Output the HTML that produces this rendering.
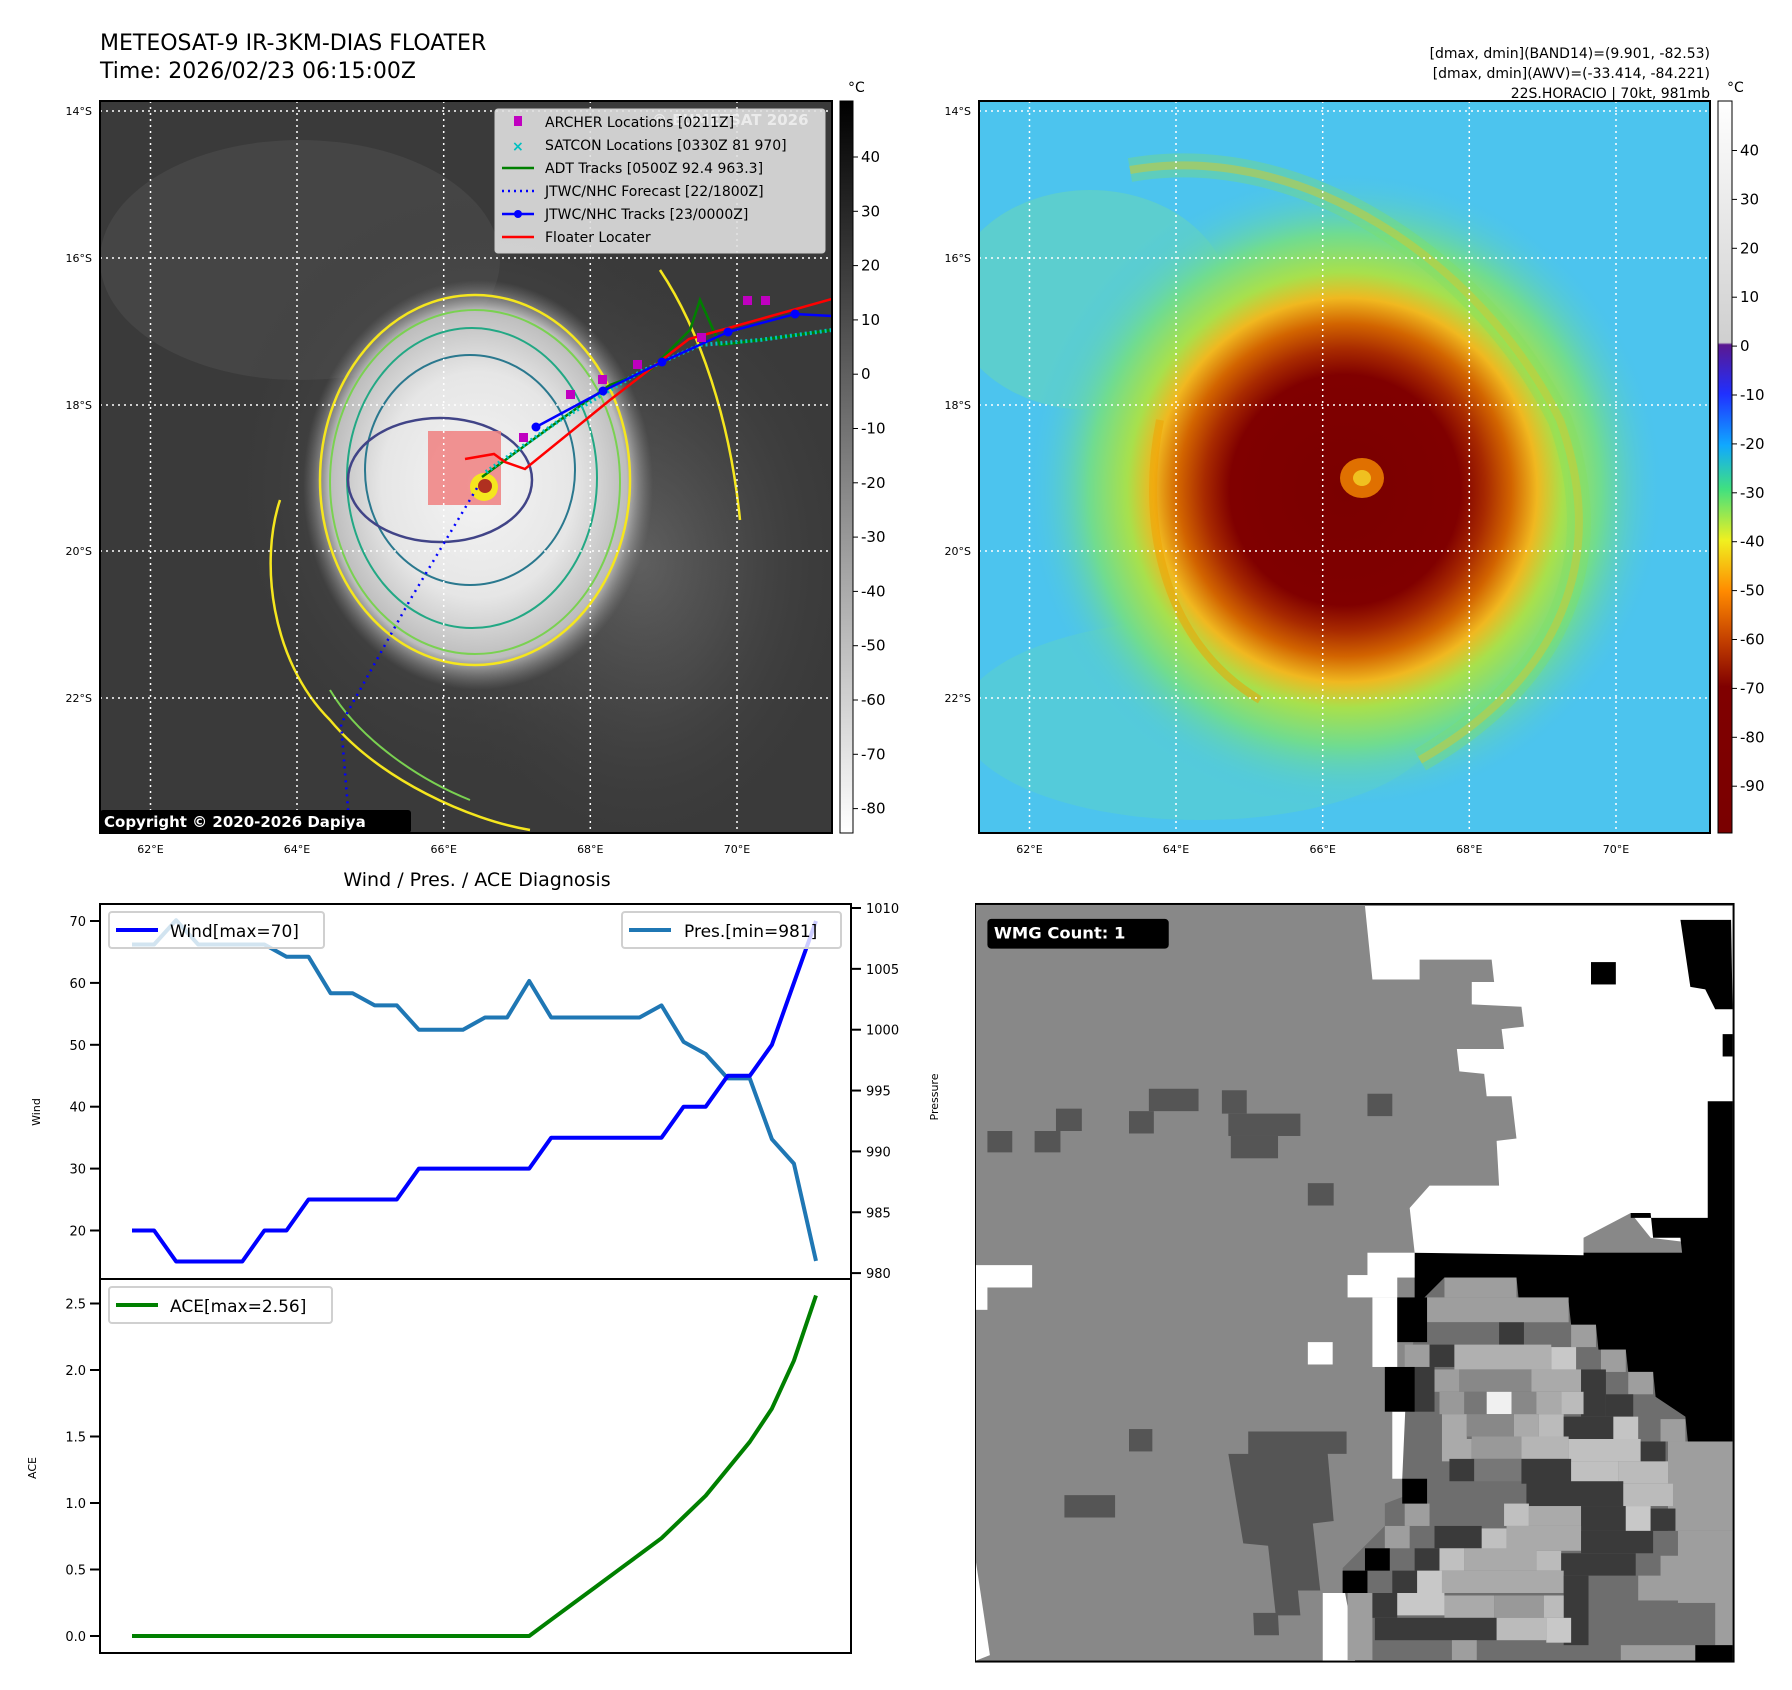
<!DOCTYPE html>
<html><head><meta charset="utf-8"><style>
html,body{margin:0;padding:0;background:#fff;}
svg{display:block;font-family:"DejaVu Sans","Liberation Sans",sans-serif;}
</style></head><body>
<svg id="root" width="1792" height="1690" viewBox="0 0 1792 1690" xmlns="http://www.w3.org/2000/svg">
<defs>
<radialGradient id="cloud1" cx="0.5" cy="0.5" r="0.5">
<stop offset="0" stop-color="#f4f4f4"/><stop offset="0.55" stop-color="#e6e6e6"/><stop offset="0.85" stop-color="#bdbdbd"/><stop offset="1" stop-color="#8a8a8a" stop-opacity="0"/>
</radialGradient>
<radialGradient id="halo1" cx="0.5" cy="0.5" r="0.5">
<stop offset="0" stop-color="#6a6a6a"/><stop offset="1" stop-color="#3a3a3a" stop-opacity="0"/>
</radialGradient>
<radialGradient id="storm2" cx="0.5" cy="0.5" r="0.5">
<stop offset="0" stop-color="#7a0000"/><stop offset="0.36" stop-color="#800000"/><stop offset="0.44" stop-color="#a82a00"/><stop offset="0.52" stop-color="#d26400"/><stop offset="0.6" stop-color="#f0b820"/><stop offset="0.68" stop-color="#a8e04c"/><stop offset="0.8" stop-color="#70dc90"/><stop offset="1" stop-color="#4cc4ee" stop-opacity="0"/>
</radialGradient>
<linearGradient id="cb1" x1="0" y1="0" x2="0" y2="1"><stop offset="0" stop-color="#000"/><stop offset="1" stop-color="#fff"/></linearGradient>
<linearGradient id="cb2" x1="0" y1="0" x2="0" y2="1">
<stop offset="0" stop-color="#ffffff"/><stop offset="0.33" stop-color="#cfcfcf"/><stop offset="0.333" stop-color="#5a1890"/><stop offset="0.4" stop-color="#2030ff"/><stop offset="0.47" stop-color="#10a8ff"/><stop offset="0.53" stop-color="#40e080"/><stop offset="0.6" stop-color="#f0f020"/><stop offset="0.67" stop-color="#ff8a00"/><stop offset="0.74" stop-color="#c03c00"/><stop offset="0.8" stop-color="#800000"/><stop offset="1" stop-color="#7a0000"/>
</linearGradient>
<clipPath id="clip1"><rect x="100" y="101" width="732" height="732"/></clipPath>
<clipPath id="clip2"><rect x="979" y="101" width="731" height="732"/></clipPath>
</defs>

<text x="100" y="50" font-size="22">METEOSAT-9 IR-3KM-DIAS FLOATER</text>
<text x="100" y="78" font-size="22">Time: 2026/02/23 06:15:00Z</text>
<g font-size="14" text-anchor="end">
<text x="1710" y="58">[dmax, dmin](BAND14)=(9.901, -82.53)</text>
<text x="1710" y="78">[dmax, dmin](AWV)=(-33.414, -84.221)</text>
<text x="1710" y="98">22S.HORACIO | 70kt, 981mb</text>
</g>

<!-- MAP 1 -->
<g id="map1" clip-path="url(#clip1)">
<rect x="100" y="101" width="732" height="732" fill="#3a3a3a"/>
<ellipse cx="300" cy="260" rx="200" ry="120" fill="#4a4a4a" opacity="0.7"/>
<ellipse cx="640" cy="560" rx="220" ry="300" fill="url(#halo1)"/>
<ellipse cx="480" cy="490" rx="260" ry="300" fill="url(#halo1)"/>
<ellipse cx="478" cy="485" rx="175" ry="205" fill="url(#cloud1)"/>
<ellipse cx="475" cy="480" rx="155" ry="185" fill="none" stroke="#f5e61e" stroke-width="2.5"/>
<ellipse cx="475" cy="482" rx="145" ry="172" fill="none" stroke="#7ad151" stroke-width="2"/>
<ellipse cx="472" cy="478" rx="125" ry="150" fill="none" stroke="#22a884" stroke-width="2"/>
<ellipse cx="470" cy="470" rx="105" ry="115" fill="none" stroke="#2a788e" stroke-width="2"/>
<ellipse cx="440" cy="480" rx="92" ry="62" fill="none" stroke="#414487" stroke-width="2.5"/>
<path d="M280,500 C260,560 270,660 330,720 C380,780 470,820 530,830" fill="none" stroke="#f5e61e" stroke-width="2.5"/>
<path d="M330,690 C360,740 420,780 470,800" fill="none" stroke="#7ad151" stroke-width="2"/>
<path d="M660,270 C700,330 730,420 740,520" fill="none" stroke="#f5e61e" stroke-width="2.5"/>
<rect x="428" y="431" width="73" height="74" fill="#f08080" opacity="0.85"/>
<circle cx="484" cy="487" r="14" fill="#f5e61e"/><circle cx="485" cy="486" r="7" fill="#b03020"/>
<g stroke="#fff" stroke-width="1.5" stroke-dasharray="2,4">
<line x1="150.5" y1="101" x2="150.5" y2="833"/><line x1="297" y1="101" x2="297" y2="833"/><line x1="443.7" y1="101" x2="443.7" y2="833"/><line x1="590.3" y1="101" x2="590.3" y2="833"/><line x1="737" y1="101" x2="737" y2="833"/>
<line x1="100" y1="111" x2="832" y2="111"/><line x1="100" y1="258" x2="832" y2="258"/><line x1="100" y1="405" x2="832" y2="405"/><line x1="100" y1="551" x2="832" y2="551"/><line x1="100" y1="698" x2="832" y2="698"/>
</g>
<polyline points="477,488 410,600 341,724 350,833" fill="none" stroke="#0000ff" stroke-width="2.5" stroke-dasharray="2,5"/>
<polyline points="482,477 560,420 610,385 650,370 690,330 700,300 720,345 760,340 832,330" fill="none" stroke="#008000" stroke-width="2.5"/>
<polyline points="486,472 560,420 640,372 700,345 760,340 832,330" fill="none" stroke="#00c0c0" stroke-width="4" stroke-dasharray="2,3"/>
<polyline points="465,459 494,454 505,462 525,469 610,400 689,339 832,299" fill="none" stroke="#ff0000" stroke-width="2.5"/>
<polyline points="536,427 603,391 662,362 728,332 795,314 832,316" fill="none" stroke="#0000ff" stroke-width="2.5"/>
<g fill="#0000ff"><circle cx="536" cy="427" r="4.5"/><circle cx="603" cy="391" r="4.5"/><circle cx="662" cy="362" r="4.5"/><circle cx="728" cy="332" r="4.5"/><circle cx="795" cy="314" r="4.5"/></g>
<g fill="#c000c0">
<rect x="519" y="433" width="9" height="9"/><rect x="566" y="390" width="9" height="9"/><rect x="598" y="375" width="9" height="9"/><rect x="633" y="360" width="9" height="9"/><rect x="697" y="333" width="9" height="9"/><rect x="743" y="296" width="9" height="9"/><rect x="761" y="296" width="9" height="9"/>
</g>
<rect x="100" y="810" width="311" height="23" fill="#000" rx="3"/>
<text x="104" y="827" font-size="15" font-weight="bold" fill="#fff">Copyright © 2020-2026 Dapiya</text>
</g>
<rect x="100" y="101" width="732" height="732" fill="none" stroke="#000" stroke-width="2"/>
<g>
<rect x="495" y="109" width="330" height="144" rx="3" fill="#e0e0e0" fill-opacity="0.9" stroke="#ccc"/>
<text x="652" y="125" font-size="15" font-weight="bold" fill="#fff" opacity="0.6">© EUMETSAT 2026</text>
<g font-size="14">
<rect x="514" y="116" width="8" height="10" fill="#c000c0"/><text x="545" y="127">ARCHER Locations [0211Z]</text>
<text x="512" y="151" fill="#00c0c0" font-size="14" font-weight="bold">×</text><text x="545" y="150">SATCON Locations [0330Z 81 970]</text>
<line x1="502" y1="168" x2="534" y2="168" stroke="#008000" stroke-width="2.5"/><text x="545" y="173">ADT Tracks [0500Z 92.4 963.3]</text>
<line x1="502" y1="191" x2="534" y2="191" stroke="#0000ff" stroke-width="2.5" stroke-dasharray="2,4"/><text x="545" y="196">JTWC/NHC Forecast [22/1800Z]</text>
<line x1="502" y1="214" x2="534" y2="214" stroke="#0000ff" stroke-width="2.5"/><circle cx="518" cy="214" r="4" fill="#0000ff"/><text x="545" y="219">JTWC/NHC Tracks [23/0000Z]</text>
<line x1="502" y1="237" x2="534" y2="237" stroke="#ff0000" stroke-width="2.5"/><text x="545" y="242">Floater Locater</text>
</g></g>
<g font-size="11" text-anchor="end">
<text x="92" y="115">14°S</text><text x="92" y="262">16°S</text><text x="92" y="409">18°S</text><text x="92" y="555">20°S</text><text x="92" y="702">22°S</text></g>
<g font-size="11" text-anchor="middle">
<text x="150.5" y="853">62°E</text><text x="297" y="853">64°E</text><text x="443.7" y="853">66°E</text><text x="590.3" y="853">68°E</text><text x="737" y="853">70°E</text></g>
<rect x="840" y="101" width="13" height="732" fill="url(#cb1)" stroke="#000" stroke-width="1"/>
<text x="848" y="92" font-size="14">°C</text>
<g id="cb1ticks" font-size="15"></g>

<!-- MAP 2 -->
<g clip-path="url(#clip2)">
<rect x="979" y="101" width="731" height="732" fill="#4cc4ee"/>
<ellipse cx="1090" cy="300" rx="140" ry="110" fill="#6cd8b0" opacity="0.5"/>
<ellipse cx="1200" cy="720" rx="240" ry="100" fill="#60d4c0" opacity="0.45"/>
<ellipse cx="1345" cy="490" rx="320" ry="320" fill="url(#storm2)"/>
<path d="M1130,170 C1300,140 1480,260 1560,420 C1610,560 1560,680 1420,760" fill="none" stroke="#f0c020" stroke-width="8" opacity="0.55"/>
<path d="M1130,170 C1300,140 1480,260 1560,420 C1610,560 1560,680 1420,760" fill="none" stroke="#80e060" stroke-width="24" opacity="0.35"/>
<path d="M1160,420 C1140,520 1160,640 1260,700" fill="none" stroke="#f0a000" stroke-width="8" opacity="0.5"/>
<ellipse cx="1362" cy="478" rx="22" ry="20" fill="#e07000"/><ellipse cx="1362" cy="478" rx="9" ry="8" fill="#f0c020"/>
<g stroke="#fff" stroke-width="1.5" stroke-dasharray="2,4">
<line x1="1029.5" y1="101" x2="1029.5" y2="833"/><line x1="1176" y1="101" x2="1176" y2="833"/><line x1="1322.7" y1="101" x2="1322.7" y2="833"/><line x1="1469.3" y1="101" x2="1469.3" y2="833"/><line x1="1616" y1="101" x2="1616" y2="833"/>
<line x1="979" y1="111" x2="1710" y2="111"/><line x1="979" y1="258" x2="1710" y2="258"/><line x1="979" y1="405" x2="1710" y2="405"/><line x1="979" y1="551" x2="1710" y2="551"/><line x1="979" y1="698" x2="1710" y2="698"/>
</g></g>
<rect x="979" y="101" width="731" height="732" fill="none" stroke="#000" stroke-width="2"/>
<g font-size="11" text-anchor="end">
<text x="971" y="115">14°S</text><text x="971" y="262">16°S</text><text x="971" y="409">18°S</text><text x="971" y="555">20°S</text><text x="971" y="702">22°S</text></g>
<g font-size="11" text-anchor="middle">
<text x="1029.5" y="853">62°E</text><text x="1176" y="853">64°E</text><text x="1322.7" y="853">66°E</text><text x="1469.3" y="853">68°E</text><text x="1616" y="853">70°E</text></g>
<rect x="1718" y="101" width="14" height="732" fill="url(#cb2)" stroke="#000" stroke-width="1"/>
<text x="1727" y="92" font-size="14">°C</text>
<g id="cb2ticks" font-size="15"></g>

<!-- DIAGNOSIS CHART -->
<text x="477" y="886" font-size="19" text-anchor="middle">Wind / Pres. / ACE Diagnosis</text>
<g id="diag"></g>
<rect x="100" y="904" width="751" height="375" fill="none" stroke="#000" stroke-width="2"/>
<rect x="100" y="1279" width="751" height="374" fill="none" stroke="#000" stroke-width="2"/>
<text transform="translate(40,1112) rotate(-90)" font-size="11" text-anchor="middle">Wind</text>
<text transform="translate(938,1097) rotate(-90)" font-size="11" text-anchor="middle">Pressure</text>
<text transform="translate(36,1468) rotate(-90)" font-size="11" text-anchor="middle">ACE</text>
<g>
<rect x="109" y="912" width="215" height="36" rx="3" fill="#fff" fill-opacity="0.8" stroke="#d0d0d0" stroke-width="2"/>
<line x1="116" y1="930" x2="158" y2="930" stroke="#0000ff" stroke-width="4"/><text x="170" y="937" font-size="17">Wind[max=70]</text></g>
<g>
<rect x="622" y="912" width="219" height="36" rx="3" fill="#fff" fill-opacity="0.8" stroke="#d0d0d0" stroke-width="2"/>
<line x1="629" y1="930" x2="671" y2="930" stroke="#1f77b4" stroke-width="4"/><text x="684" y="937" font-size="17">Pres.[min=981]</text></g>
<g>
<rect x="109" y="1287" width="223" height="36" rx="3" fill="#fff" fill-opacity="0.8" stroke="#d0d0d0" stroke-width="2"/>
<line x1="116" y1="1305" x2="158" y2="1305" stroke="#008000" stroke-width="4"/><text x="170" y="1312" font-size="17">ACE[max=2.56]</text></g>

<!-- WMG PANEL -->
<svg x="975" y="900" width="770" height="770" viewBox="0 0 1550 1550">
<rect x="0" y="10" width="1525" height="1522" fill="#888"/>
<polygon points="0,1320 30,1520 0,1532" fill="#fff"/>
<rect x="885" y="710" width="640" height="380" fill="#000"/>
<polygon fill="#fff" points="785,12 1525,12 1525,700 1360,680 1320,630 1225,680 1225,715 885,710 875,620 915,575 1055,575 1050,485 1090,480 1080,395 1030,395 1025,350 975,345 970,300 1065,300 1060,260 1105,255 1100,215 1000,210 1000,165 1045,165 1040,120 895,120 895,160 800,160"/>
<polygon fill="#000" points="1420,40 1522,40 1525,220 1490,220 1470,180 1440,175"/>
<rect x="1240" y="125" width="50" height="45" fill="#000"/>
<rect x="1505" y="270" width="20" height="45" fill="#000"/>
<polygon fill="#000" points="1475,405 1525,405 1525,730 1480,730 1480,770 1430,770 1420,680 1365,680 1360,630 1320,630 1320,640 1475,640"/>
<g fill="#fff"><rect x="0" y="735" width="115" height="45"/><rect x="0" y="780" width="25" height="45"/><rect x="790" y="710" width="95" height="50"/><rect x="750" y="755" width="100" height="45"/><rect x="800" y="800" width="50" height="140"/><rect x="840" y="1030" width="60" height="135"/><rect x="670" y="890" width="50" height="45"/><rect x="700" y="1395" width="65" height="137"/></g>
<g fill="#555"><rect x="25" y="465" width="50" height="43"/><rect x="120" y="465" width="52" height="43"/><rect x="163" y="420" width="52" height="45"/><rect x="310" y="425" width="50" height="45"/><rect x="350" y="380" width="100" height="45"/><rect x="497" y="383" width="50" height="47"/><rect x="510" y="430" width="145" height="45"/><rect x="515" y="475" width="95" height="45"/><rect x="790" y="390" width="50" height="45"/><rect x="670" y="570" width="52" height="45"/><rect x="310" y="1065" width="47" height="45"/><rect x="180" y="1198" width="102" height="45"/>
<polygon points="550,1070 748,1070 748,1115 710,1115 722,1250 680,1255 695,1390 650,1390 655,1440 610,1440 612,1480 562,1480 560,1435 605,1435 590,1300 540,1295 525,1205 510,1115 550,1115"/></g>
<polygon fill="#6e6e6e" points="905,800 945,760 1090,760 1095,810 1195,810 1200,855 1250,855 1255,905 1310,905 1315,950 1365,950 1370,1000 1430,1040 1435,1090 1525,1090 1525,1530 770,1530 745,1395 740,1345 785,1300 825,1260 825,1215 865,1200 860,1165 870,940"/>
<g id="cells"></g>
<rect x="1450" y="1500" width="75" height="32" fill="#000"/>
<rect x="0" y="8" width="1527" height="1525" fill="none" stroke="#000" stroke-width="4"/>
<rect x="25" y="38" width="365" height="60" rx="8" fill="#000"/>
<text x="38" y="78" font-size="33" font-weight="bold" fill="#fff">WMG Count: 1</text>
</svg>
</svg>
<script>
// ----- Diagnosis chart data -----
const windValues = [20,20,15,15,15,15,20,20,25,25,25,25,25,30,30,30,30,30,30,35,35,35,35,35,35,40,40,45,45,50,60,70];
const presValues = [1007,1007,1009,1007,1007,1007,1007,1006,1006,1003,1003,1002,1002,1000,1000,1000,1001,1001,1004,1001,1001,1001,1001,1001,1002,999,998,996,996,991,989,981];
const aceValues = [0,0,0,0,0,0,0,0,0,0,0,0,0,0,0,0,0,0,0,0.1225,0.245,0.3675,0.49,0.6125,0.735,0.895,1.055,1.2575,1.46,1.71,2.07,2.56];
const windTicks = [20,30,40,50,60,70];
const presTicks = [980,985,990,995,1000,1005,1010];
const aceTicks = [0.0,0.5,1.0,1.5,2.0,2.5];
const cbIrTicks = [40,30,20,10,0,-10,-20,-30,-40,-50,-60,-70,-80];
const cbAwvTicks = [40,30,20,10,0,-10,-20,-30,-40,-50,-60,-70,-80,-90];

const NS = 'http://www.w3.org/2000/svg';
function xIdx(i){ return 132 + i * (816 - 132) / (windValues.length - 1); }
function yWind(v){ return 921 + (70 - v) * 6.19; }
function yPres(v){ return 908 + (1010 - v) * 12.17; }
function yAce(v){ return 1636 - v * 133; }
function yCb1(v){ return 157 + (40 - v) * 5.43; }
function yCb2(v){ return 150.5 + (40 - v) * 4.89; }

const diag = document.getElementById('diag');
function mk(tag, attrs, parent){ const e = document.createElementNS(NS, tag); for (const k in attrs) e.setAttribute(k, attrs[k]); parent.appendChild(e); return e; }

function linePath(vals, yf){ return vals.map((v,i)=>(i?'L':'M')+xIdx(i).toFixed(1)+','+yf(v).toFixed(1)).join(' '); }

const pl = mk('path', {d: linePath(presValues, yPres), fill:'none', stroke:'#1f77b4', 'stroke-width':4, 'stroke-linejoin':'round'}, diag);


const wl = mk('path', {d: linePath(windValues, yWind), fill:'none', stroke:'#0000ff', 'stroke-width':4, 'stroke-linejoin':'round'}, diag);


const al = mk('path', {d: linePath(aceValues, yAce), fill:'none', stroke:'#008000', 'stroke-width':4, 'stroke-linejoin':'round'}, diag);



windTicks.forEach(v=>{
  const y = yWind(v);
  mk('line', {x1:90, x2:100, y1:y, y2:y, stroke:'#000', 'stroke-width':2}, diag);
  const t = mk('text', {x:86, y:y+5, 'font-size':13, 'text-anchor':'end'}, diag);
  t.textContent = v;
  
  
});
presTicks.forEach(v=>{
  const y = yPres(v);
  mk('line', {x1:851, x2:861, y1:y, y2:y, stroke:'#000', 'stroke-width':2}, diag);
  const t = mk('text', {x:866, y:y+5, 'font-size':13}, diag);
  t.textContent = v;
  
  
});
aceTicks.forEach(v=>{
  const y = yAce(v);
  mk('line', {x1:90, x2:100, y1:y, y2:y, stroke:'#000', 'stroke-width':2}, diag);
  const t = mk('text', {x:86, y:y+5, 'font-size':13, 'text-anchor':'end'}, diag);
  t.textContent = v.toFixed(1);
  
  
});

const cb1 = document.getElementById('cb1ticks');
cbIrTicks.forEach(v=>{
  const y = yCb1(v);
  mk('line', {x1:853, x2:858, y1:y, y2:y, stroke:'#000'}, cb1);
  const t = mk('text', {x:861, y:y+5}, cb1);
  t.textContent = v;
  
  
});
const cb2 = document.getElementById('cb2ticks');
cbAwvTicks.forEach(v=>{
  const y = yCb2(v);
  mk('line', {x1:1732, x2:1737, y1:y, y2:y, stroke:'#000'}, cb2);
  const t = mk('text', {x:1740, y:y+5}, cb2);
  t.textContent = v;
  
  
});

// WMG mottled cells [x0,y0,x1,y1,color]
const cells = [
[945,760,1090,800,'#9e9e9e'],[905,800,1195,850,'#9e9e9e'],[910,850,1055,895,'#6e6e6e'],[1055,850,1105,895,'#3a3a3a'],[1200,855,1250,900,'#9e9e9e'],
[865,895,915,940,'#9e9e9e'],[915,895,965,940,'#3a3a3a'],[965,895,1160,945,'#b0b0b0'],[1160,900,1210,945,'#c8c8c8'],[1260,905,1310,950,'#9e9e9e'],
[875,940,925,1030,'#3a3a3a'],[925,945,975,990,'#9e9e9e'],[975,945,1120,990,'#888'],[1120,945,1220,990,'#aaa'],[1220,945,1270,1040,'#3a3a3a'],[1315,950,1365,995,'#9e9e9e'],
[935,990,985,1035,'#999'],[985,990,1030,1035,'#777'],[1030,990,1080,1035,'#f0f0f0'],[1080,990,1130,1035,'#888'],[1130,990,1180,1035,'#aaa'],[1180,990,1225,1035,'#bbb'],[1270,995,1325,1040,'#3a3a3a'],
[940,1035,990,1085,'#aaa'],[990,1035,1085,1080,'#888'],[1085,1035,1135,1080,'#aaa'],[1135,1035,1185,1080,'#bbb'],[1185,1040,1285,1085,'#3a3a3a'],[1285,1040,1335,1085,'#c4c4c4'],[1380,1045,1430,1090,'#9e9e9e'],
[940,1085,1000,1130,'#aaa'],[1000,1080,1100,1125,'#999'],[1100,1080,1195,1125,'#b5b5b5'],[1195,1085,1340,1130,'#c0c0c0'],[1340,1090,1390,1135,'#3a3a3a'],
[955,1125,1005,1170,'#3a3a3a'],[1005,1125,1100,1170,'#777'],[1100,1125,1200,1175,'#3a3a3a'],[1200,1130,1295,1175,'#c0c0c0'],[1295,1130,1395,1175,'#bbb'],[1395,1090,1525,1270,'#9e9e9e'],
[1110,1170,1305,1220,'#3a3a3a'],[1305,1175,1405,1220,'#bbb'],
[865,1215,915,1260,'#9e9e9e'],[1065,1215,1115,1260,'#c0c0c0'],[1115,1220,1220,1260,'#aaa'],[1220,1220,1310,1270,'#3a3a3a'],[1310,1220,1360,1270,'#c8c8c8'],[1360,1225,1410,1270,'#3a3a3a'],
[825,1260,875,1305,'#9e9e9e'],[925,1260,1020,1305,'#3a3a3a'],[1020,1265,1070,1310,'#c0c0c0'],[1070,1260,1220,1310,'#aaa'],[1220,1270,1365,1315,'#3a3a3a'],[1415,1270,1525,1415,'#9e9e9e'],
[885,1305,935,1350,'#3a3a3a'],[935,1305,985,1350,'#c0c0c0'],[985,1305,1130,1350,'#aaa'],[1130,1310,1180,1350,'#bbb'],[1180,1315,1330,1360,'#3a3a3a'],[1380,1320,1420,1410,'#9e9e9e'],
[785,1305,835,1350,'#000'],[740,1350,790,1395,'#000'],[840,1350,890,1395,'#3a3a3a'],[890,1350,940,1395,'#c8c8c8'],[940,1350,1185,1395,'#aaa'],[1185,1360,1235,1500,'#3a3a3a'],[1335,1360,1525,1410,'#9e9e9e'],
[750,1395,800,1530,'#9e9e9e'],[800,1395,850,1445,'#3a3a3a'],[850,1395,945,1440,'#c8c8c8'],[945,1400,1045,1445,'#aaa'],[1045,1400,1145,1445,'#999'],[1145,1400,1185,1445,'#bbb'],[1490,1410,1525,1500,'#9e9e9e'],
[805,1445,1050,1490,'#3a3a3a'],[1050,1445,1150,1490,'#bbb'],[1150,1445,1200,1495,'#c8c8c8'],
[960,1490,1010,1530,'#9e9e9e'],[1300,1500,1450,1530,'#9e9e9e'],
[850,800,910,890,'#000'],[825,940,885,1030,'#000'],[860,1165,910,1215,'#000']
];
const cg = document.getElementById('cells');
cells.forEach(c=>{
  const r = mk('rect', {x:c[0], y:c[1], width:c[2]-c[0], height:c[3]-c[1], fill:c[4]}, cg);
  
  
});
</script>
</body></html>
